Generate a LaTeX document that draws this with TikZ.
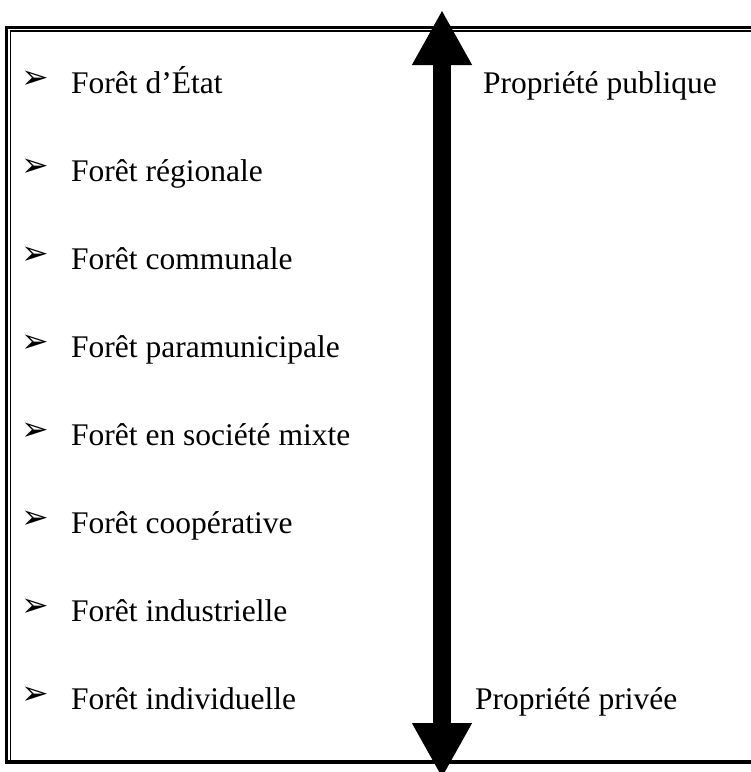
\documentclass[tikz,border=0pt]{standalone}
\usepackage{fontspec}
\setmainfont{Liberation Serif}
\newfontfamily\symfont{DejaVu Sans}
\usetikzlibrary{arrows.meta}
\tikzset{
  itemtext/.style={anchor=base west, inner sep=0pt, font=\fontsize{31.5}{38}\selectfont},
  bulletmark/.style={anchor=center, inner sep=0pt, font=\symfont\fontsize{33}{38}\selectfont},
  bigarrow/.style={line width=18pt, {Triangle[length=55pt,width=56pt]}-{Triangle[length=55pt,width=56pt]}},
  thickrule/.style={line width=2.6pt},
  thinrule/.style={line width=1.1pt},
}
\begin{document}
\begin{tikzpicture}[x=1pt,y=1pt]
\useasboundingbox (0,0) rectangle (751,-772);
\clip (0,0) rectangle (751,-772);
% frame
\draw[thickrule] (6.3,-762) -- (6.3,-27.5) -- (760,-27.5);
\draw[thinrule] (10.3,-760) -- (10.3,-31) -- (760,-31);
\draw[line width=4pt] (4.9,-762) -- (760,-762);
% items
\foreach \t [count=\i from 0] in {Forêt d’État,Forêt régionale,Forêt communale,Forêt paramunicipale,Forêt en société mixte,Forêt coopérative,Forêt industrielle,Forêt individuelle}{
  \pgfmathsetmacro{\yy}{-93-88*\i}
  \node[bulletmark] (b\i) at (35,\yy+13) {➢};
  \node[itemtext] (t\i) at (71,\yy) {\t};
}
\node[itemtext] (pub) at (483,-93) {Propriété publique};
\node[itemtext] (priv) at (475,-709) {Propriété privée};
% arrow
\coordinate (atop) at (442,-10);
\coordinate (abot) at (442,-778);
\draw[bigarrow] (atop) -- (abot);
\end{tikzpicture}
\end{document}
